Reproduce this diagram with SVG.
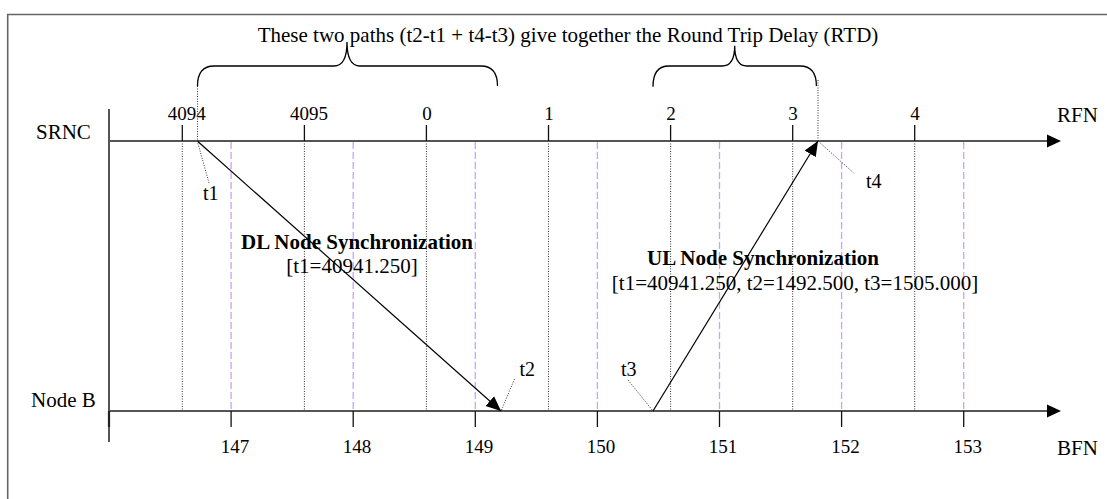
<svg xmlns="http://www.w3.org/2000/svg" width="1107" height="499" viewBox="0 0 1107 499">
<style>
text{font-family:"Liberation Serif","Times New Roman",serif;fill:#000}
.lbl{font-size:21px}
.num{font-size:19px;text-anchor:middle}
.bold{font-size:21px;font-weight:bold;text-anchor:middle}
.axis{stroke:#555;stroke-width:2;fill:none}
.tick{stroke:#111;stroke-width:1.3}
.dot{stroke:#333;stroke-width:1;stroke-dasharray:1,1.5;fill:none}
.dash{stroke:#c8a2ff;stroke-width:1.3;stroke-dasharray:7,3;fill:none}
.msg{stroke:#000;stroke-width:1.2;fill:none}
.brace{stroke:#000;stroke-width:1.3;fill:none}
</style>
<defs>
<marker id="ah" markerUnits="userSpaceOnUse" markerWidth="16" markerHeight="14" refX="15" refY="7" orient="auto">
<path d="M0,0.5 L15,7 L0,13.5 z" fill="#000"/>
</marker>
</defs>
<rect width="1107" height="499" fill="#fff"/>
<g id="frame"><path d="M7.7,499 V14.5 H1107" stroke="#666" stroke-width="1.6" fill="none"/></g>

<g id="grid">
<g class="dot">
<line x1="182.3" y1="141" x2="182.3" y2="410"/>
<line x1="304.4" y1="141" x2="304.4" y2="410"/>
<line x1="426.4" y1="141" x2="426.4" y2="410"/>
<line x1="548.5" y1="141" x2="548.5" y2="410"/>
<line x1="670.6" y1="141" x2="670.6" y2="410"/>
<line x1="792.7" y1="141" x2="792.7" y2="410"/>
<line x1="914.7" y1="141" x2="914.7" y2="410"/>
</g>
<g class="dash">
<line x1="231.1" y1="142" x2="231.1" y2="411"/>
<line x1="353.2" y1="142" x2="353.2" y2="411"/>
<line x1="475.3" y1="142" x2="475.3" y2="411"/>
<line x1="597.4" y1="142" x2="597.4" y2="411"/>
<line x1="719.5" y1="142" x2="719.5" y2="411"/>
<line x1="841.6" y1="142" x2="841.6" y2="411"/>
<line x1="963.7" y1="142" x2="963.7" y2="411"/>
</g>
</g>

<g id="srnc">
<line class="axis" x1="109" y1="141" x2="1049" y2="141"/>
<path d="M1047,134.5 L1061,141 L1047,147.5 z" fill="#000"/>
<text class="lbl" x="36" y="139">SRNC</text>
<text class="lbl" x="1057" y="122">RFN</text>
<g class="tick">
<line x1="182.3" y1="125" x2="182.3" y2="141"/>
<line x1="304.4" y1="125" x2="304.4" y2="141"/>
<line x1="426.4" y1="125" x2="426.4" y2="141"/>
<line x1="548.5" y1="125" x2="548.5" y2="141"/>
<line x1="670.6" y1="125" x2="670.6" y2="141"/>
<line x1="792.7" y1="125" x2="792.7" y2="141"/>
<line x1="914.7" y1="125" x2="914.7" y2="141"/>
</g>
<text class="num" x="186.7" y="119.5">4094</text>
<text class="num" x="309" y="119.5">4095</text>
<text class="num" x="427" y="119.5">0</text>
<text class="num" x="549" y="119.5">1</text>
<text class="num" x="671" y="119.5">2</text>
<text class="num" x="793" y="119.5">3</text>
<text class="num" x="915" y="119.5">4</text>
</g>

<g id="nodeb">
<line class="axis" x1="109" y1="411" x2="1049" y2="411"/>
<line class="axis" x1="109" y1="109" x2="109" y2="442"/>
<line stroke="#222" stroke-width="2.2" x1="109" y1="411" x2="109" y2="427"/>
<path d="M1047,404.5 L1061,411 L1047,417.5 z" fill="#000"/>
<text class="lbl" x="31" y="407">Node B</text>
<text class="lbl" x="1057" y="455">BFN</text>
<g class="tick">
<line x1="231.1" y1="411" x2="231.1" y2="427"/>
<line x1="353.2" y1="411" x2="353.2" y2="427"/>
<line x1="475.3" y1="411" x2="475.3" y2="427"/>
<line x1="597.4" y1="411" x2="597.4" y2="427"/>
<line x1="719.5" y1="411" x2="719.5" y2="427"/>
<line x1="841.6" y1="411" x2="841.6" y2="427"/>
<line x1="963.7" y1="411" x2="963.7" y2="427"/>
</g>
<text class="num" x="235" y="453">147</text>
<text class="num" x="357" y="453">148</text>
<text class="num" x="479" y="453">149</text>
<text class="num" x="601" y="453">150</text>
<text class="num" x="723" y="453">151</text>
<text class="num" x="845.5" y="453">152</text>
<text class="num" x="967.7" y="453">153</text>
</g>

<g id="rtd">
<text class="lbl" x="568" y="41.5" text-anchor="middle">These two paths (t2-t1 + t4-t3) give together the Round Trip Delay (RTD)</text>
<path class="brace" d="M197.5,86 C197.5,73 203,66 214,66 L334,66 C342,66 347,58 347,42 C347,58 352,66 360,66 L481,66 C492,66 497.5,73 497.5,86"/>
<path class="brace" d="M653,86.7 C653,73 658,66 669,66 L722,66 C730,66 734.7,59 734.7,45.7 C734.7,59 739,66 747,66 L800,66 C811,66 816.4,73 816.4,86"/>
</g>

<g id="connectors">
<line class="dot" x1="197.5" y1="86" x2="197.5" y2="141"/>
<line class="dot" x1="818" y1="80" x2="818" y2="141"/>
<line class="msg" x1="197.3" y1="141" x2="501" y2="411" marker-end="url(#ah)"/>
<line class="msg" x1="653" y1="411" x2="818" y2="141" marker-end="url(#ah)"/>
<line class="dot" x1="197.3" y1="141" x2="209" y2="183"/>
<line class="dot" x1="501.5" y1="410" x2="514.5" y2="379"/>
<line class="dot" x1="628" y1="380" x2="653" y2="411"/>
<line class="dot" x1="818" y1="141" x2="853.7" y2="173"/>
</g>

<g id="labels">
<text class="lbl" x="203" y="200" style="font-size:20px">t1</text>
<text class="lbl" x="519.5" y="376" style="font-size:20px">t2</text>
<text class="lbl" x="621" y="376" style="font-size:20px">t3</text>
<text class="lbl" x="866" y="188" style="font-size:20px">t4</text>
<text class="bold" x="357" y="249">DL Node Synchronization</text>
<text class="lbl" x="352" y="273" text-anchor="middle">[t1=40941.250]</text>
<text class="bold" x="763" y="265">UL Node Synchronization</text>
<text class="lbl" x="795" y="290" text-anchor="middle">[t1=40941.250, t2=1492.500, t3=1505.000]</text>
</g>
</svg>
